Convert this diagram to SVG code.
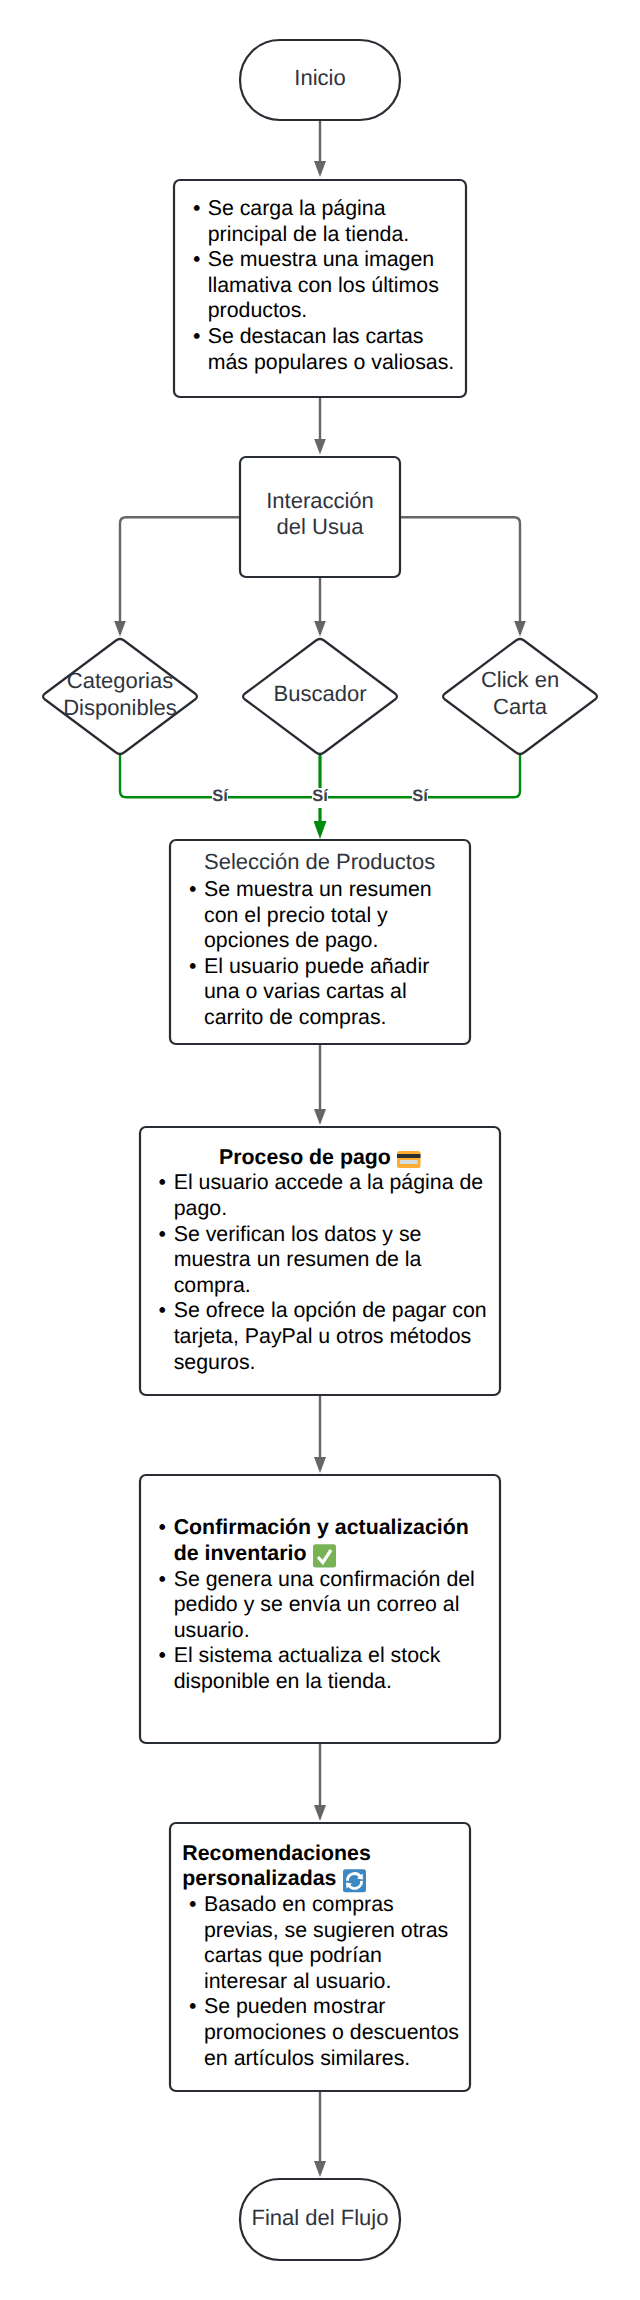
<svg xmlns="http://www.w3.org/2000/svg" width="640" height="2300" viewBox="0 0 640 2300">
<style>
text{font-family:"Liberation Sans",Arial,sans-serif;font-size:21.33px;text-rendering:geometricPrecision}
.b{fill:#000}
.d{fill:#2f343d;font-size:22px}
.m{text-anchor:middle}
.h{font-weight:700}
.s{fill:#fff;stroke:#282c33;stroke-width:2.2}
.c{fill:none;stroke:#666;stroke-width:2.4}
.g{fill:none;stroke:#008a0e;stroke-width:2.4}
.gm{stroke-width:3.2}
.si{font-size:16.5px;font-weight:700;fill:#3a414a;text-anchor:middle}
</style>
<defs>
<marker id="a" markerUnits="userSpaceOnUse" markerWidth="16" markerHeight="12" refX="8" refY="6" viewBox="0 0 16 12" orient="auto"><path d="M0 0L16 6L0 12Z" fill="#666"/></marker>
<marker id="ag" markerUnits="userSpaceOnUse" markerWidth="18" markerHeight="13" refX="9" refY="6.5" viewBox="0 0 18 13" orient="auto"><path d="M0 0L18 6.5L0 13Z" fill="#008a0e"/></marker>
</defs>
<rect width="640" height="2300" fill="#fff"/>
<g id="connectors">
<path class="c" d="M320 120V169" marker-end="url(#a)"/>
<path class="c" d="M320 397V446.5" marker-end="url(#a)"/>
<path class="c" d="M240 517.3H126Q120 517.3 120 523.3V628.5" marker-end="url(#a)"/>
<path class="c" d="M320 577V628.5" marker-end="url(#a)"/>
<path class="c" d="M400 517.3H514Q520 517.3 520 523.3V628.5" marker-end="url(#a)"/>
<path class="g" d="M120 755V791.3Q120 797.3 126 797.3H320"/>
<path class="g" d="M520 755V791.3Q520 797.3 514 797.3H320"/>
<path class="g gm" d="M320 755V830" marker-end="url(#ag)"/>
<path class="c" d="M320 1044V1117" marker-end="url(#a)"/>
<path class="c" d="M320 1395V1465" marker-end="url(#a)"/>
<path class="c" d="M320 1743V1813" marker-end="url(#a)"/>
<path class="c" d="M320 2091V2169" marker-end="url(#a)"/>
<rect x="212" y="788" width="16" height="20" fill="#fff"/><text class="si" x="220" y="800.7">Sí</text>
<rect x="312" y="788" width="16" height="20" fill="#fff"/><text class="si" x="320" y="800.7">Sí</text>
<rect x="412" y="788" width="16" height="20" fill="#fff"/><text class="si" x="420" y="800.7">Sí</text>
</g>
<g id="inicio"><rect class="s" x="240" y="40" width="160" height="80" rx="40"/><text class="d m" x="320" y="84.5">Inicio</text></g>
<g id="carga"><rect class="s" x="174" y="180" width="292" height="217" rx="6"/>
<g class="b">
<text x="193" y="215">•</text><text x="207.7" y="215">Se carga la página</text>
<text x="207.7" y="240.6">principal de la tienda.</text>
<text x="193" y="266.2">•</text><text x="207.7" y="266.2">Se muestra una imagen</text>
<text x="207.7" y="291.8">llamativa con los últimos</text>
<text x="207.7" y="317.4">productos.</text>
<text x="193" y="343">•</text><text x="207.7" y="343">Se destacan las cartas</text>
<text x="207.7" y="368.6">más populares o valiosas.</text>
</g></g>
<g id="interaccion"><rect class="s" x="240" y="457" width="160" height="120" rx="6"/><text class="d m" x="320" y="507.7">Interacción</text><text class="d m" x="320" y="534.3">del Usua</text></g>
<g id="categorias"><path class="s" d="M116 640.5Q120 637.5 124 640.5L195 693.5Q199 696.5 195 699.5L124 752.5Q120 755.5 116 752.5L45 699.5Q41 696.5 45 693.5Z"/><text class="d m" x="120" y="688.3">Categorias</text><text class="d m" x="120" y="715">Disponibles</text></g>
<g id="buscador"><path class="s" d="M316 640.5Q320 637.5 324 640.5L395 693.5Q399 696.5 395 699.5L324 752.5Q320 755.5 316 752.5L245 699.5Q241 696.5 245 693.5Z"/><text class="d m" x="320" y="701">Buscador</text></g>
<g id="click"><path class="s" d="M516 640.5Q520 637.5 524 640.5L595 693.5Q599 696.5 595 699.5L524 752.5Q520 755.5 516 752.5L445 699.5Q441 696.5 445 693.5Z"/><text class="d m" x="520" y="687.3">Click en</text><text class="d m" x="520" y="714">Carta</text></g>
<g id="seleccion"><rect class="s" x="170" y="840" width="300" height="204" rx="6"/>
<text class="d" x="204" y="869.3">Selección de Productos</text>
<g class="b">
<text x="189" y="896">•</text><text x="204" y="896">Se muestra un resumen</text>
<text x="204" y="921.6">con el precio total y</text>
<text x="204" y="947.2">opciones de pago.</text>
<text x="189" y="972.8">•</text><text x="204" y="972.8">El usuario puede añadir</text>
<text x="204" y="998.4">una o varias cartas al</text>
<text x="204" y="1024">carrito de compras.</text>
</g></g>
<g id="pago"><rect class="s" x="140" y="1127" width="360" height="268" rx="6"/>
<g class="b">
<text class="h" x="219" y="1164">Proceso de pago</text>
<text x="158.5" y="1189.3">•</text><text x="173.7" y="1189.3">El usuario accede a la página de</text>
<text x="173.7" y="1214.9">pago.</text>
<text x="158.5" y="1240.5">•</text><text x="173.7" y="1240.5">Se verifican los datos y se</text>
<text x="173.7" y="1266.1">muestra un resumen de la</text>
<text x="173.7" y="1291.7">compra.</text>
<text x="158.5" y="1317.3">•</text><text x="173.7" y="1317.3">Se ofrece la opción de pagar con</text>
<text x="173.7" y="1342.9">tarjeta, PayPal u otros métodos</text>
<text x="173.7" y="1368.5">seguros.</text>
</g>
<rect x="397" y="1151" width="23.5" height="17" rx="2.5" fill="#ffac33"/>
<rect x="397" y="1154" width="23.5" height="4" fill="#292f33"/>
<rect x="400" y="1160" width="17.5" height="4" fill="#d5dde2"/>
</g>
<g id="confirmacion"><rect class="s" x="140" y="1475" width="360" height="268" rx="6"/>
<g class="b">
<text x="158.5" y="1534.3">•</text><text class="h" x="173.7" y="1534.3">Confirmación y actualización</text>
<text class="h" x="173.7" y="1560">de inventario</text>
<text x="158.5" y="1585.6">•</text><text x="173.7" y="1585.6">Se genera una confirmación del</text>
<text x="173.7" y="1611.2">pedido y se envía un correo al</text>
<text x="173.7" y="1636.8">usuario.</text>
<text x="158.5" y="1662.4">•</text><text x="173.7" y="1662.4">El sistema actualiza el stock</text>
<text x="173.7" y="1688">disponible en la tienda.</text>
</g>
<rect x="313" y="1544.3" width="23" height="23.3" rx="2.5" fill="#77b255"/>
<path d="M318 1557L322.8 1562.5L331 1550" fill="none" stroke="#fff" stroke-width="3.2"/>
</g>
<g id="recomendaciones"><rect class="s" x="170" y="1823" width="300" height="268" rx="6"/>
<g class="b">
<text class="h" x="182.3" y="1860">Recomendaciones</text>
<text class="h" x="182.3" y="1885.3">personalizadas</text>
<text x="189" y="1911">•</text><text x="204" y="1911">Basado en compras</text>
<text x="204" y="1936.6">previas, se sugieren otras</text>
<text x="204" y="1962.2">cartas que podrían</text>
<text x="204" y="1987.8">interesar al usuario.</text>
<text x="189" y="2013.4">•</text><text x="204" y="2013.4">Se pueden mostrar</text>
<text x="204" y="2039">promociones o descuentos</text>
<text x="204" y="2064.6">en artículos similares.</text>
</g>
<rect x="343" y="1869.3" width="23" height="23" rx="2.5" fill="#3b88c3"/>
<path d="M347.5 1880.8A7 7 0 0 1 360.5 1877M361.5 1880.8A7 7 0 0 1 348.5 1885" fill="none" stroke="#fff" stroke-width="2.8"/>
<path d="M357 1878.5L363 1879.5L362.5 1873.5ZM352 1883.5L346 1882.5L346.5 1888.5Z" fill="#fff"/>
</g>
<g id="final"><rect class="s" x="240" y="2179" width="160" height="81" rx="40"/><text class="d m" x="320" y="2225">Final del Flujo</text></g>
</svg>
